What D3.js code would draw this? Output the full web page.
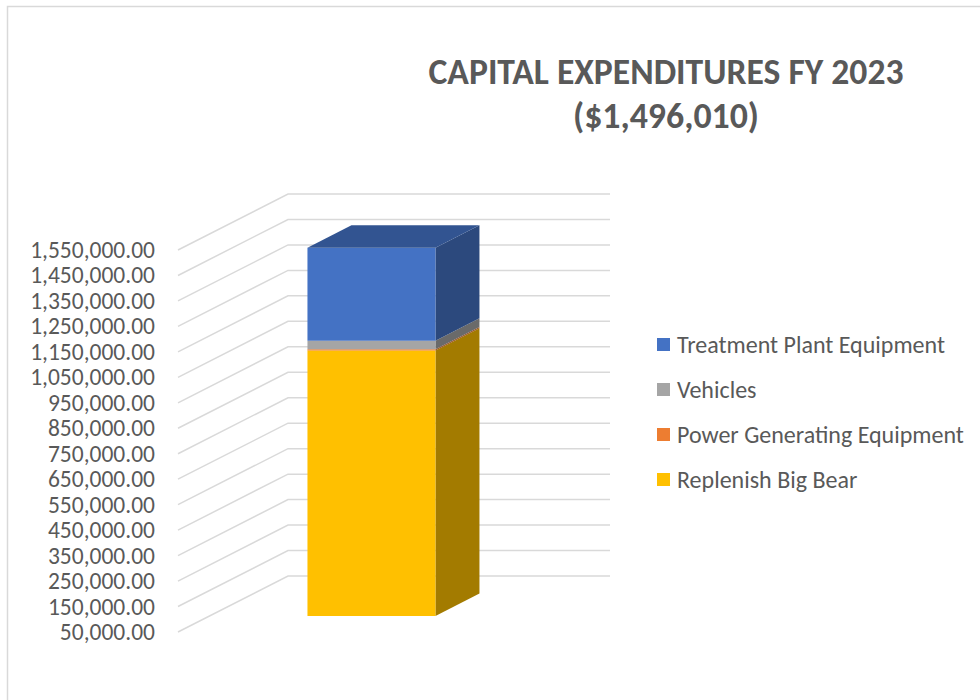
<!DOCTYPE html>
<meta charset="utf-8">
<head>
  <style>
    body { margin: 0; background: #fff; }
    .tick-label { font-family: Carlito, "Open Sans", sans-serif; font-size: 23.5px; fill: #595959; }
    .legend-text { font-family: Carlito, "Open Sans", sans-serif; font-size: 24px; fill: #595959; }
    .title { font-family: Carlito, "Open Sans", sans-serif; font-weight: bold; font-size: 36px; fill: #595959; }
  </style>
</head>
<script src="https://d3js.org/d3.v7.min.js"></script>
<div id="chart"></div>
<script>
// data, bottom of the stack first
const series = ["Replenish Big Bear", "Power Generating Equipment", "Vehicles", "Treatment Plant Equipment"];
const values = [1092000, 5000, 34000, 365010];
const colors = ["#FFC000", "#ED7D31", "#A5A5A5", "#4472C4"];
const tickValues = [50000, 150000, 250000, 350000, 450000, 550000, 650000, 750000,
  850000, 950000, 1050000, 1150000, 1250000, 1350000, 1450000, 1550000];
const titleLines = ["CAPITAL EXPENDITURES FY 2023", "($1,496,010)"];

const W = 980, H = 700;

// fake 3d: depth z in [0,1] shifts right and up
const DEPTH_X = 110, DEPTH_Y = 56;
const FRONT_X = 178, BACK_RIGHT = 610;

const svg = d3.select("#chart").append("svg")
  .attr("width", W)
  .attr("height", H);

// outer chart border (runs off the page right and bottom)
svg.append("rect")
  .attr("x", 7.5).attr("y", 6.5)
  .attr("width", 1000).attr("height", 1000)
  .attr("fill", "none")
  .attr("stroke", "#d9d9d9")
  .attr("stroke-width", 1.5);

const y = d3.scaleLinear()
  .domain([50000, 1550000])
  .range([632, 250])
  .clamp(true);

// projected point
function p(x, v, z) {
  return [x + z * DEPTH_X, y(v) - z * DEPTH_Y];
}

// gridlines: diagonal on the side wall, then flat on the back wall
svg.append("g")
  .selectAll("polyline")
  .data(tickValues)
  .join("polyline")
  .attr("points", d => [p(FRONT_X, d, 0), p(FRONT_X, d, 1), [BACK_RIGHT, y(d) - DEPTH_Y]].join(" "))
  .attr("fill", "none")
  .attr("stroke", "#d9d9d9")
  .attr("stroke-width", 1.5);

// value labels
const axis = d3.axisLeft(y)
  .tickValues(tickValues)
  .tickFormat(d3.format(",.2f"))
  .tickSize(0)
  .tickPadding(23);

const axisG = svg.append("g")
  .attr("transform", `translate(${FRONT_X},0)`)
  .call(axis);
axisG.select(".domain").remove();
axisG.attr("font-family", null).attr("font-size", null);
axisG.selectAll("text")
  .attr("class", "tick-label")
  .attr("fill", null);

// the single stacked bar
const x = d3.scaleBand()
  .domain(["FY 2023"])
  .range([276, 404]);

const zFront = 0.286, zBack = 0.686;

const stack = [];
let acc = 0;
values.forEach((v, i) => {
  stack.push({ key: series[i], y0: acc, y1: acc + v, color: colors[i] });
  acc += v;
});

const bar = svg.append("g");
const x0 = x("FY 2023"), x1 = x0 + x.bandwidth();

stack.forEach(s => {
  const c = d3.color(s.color);
  // right side
  bar.append("polygon")
    .attr("points", [p(x1, s.y0, zFront), p(x1, s.y0, zBack), p(x1, s.y1, zBack), p(x1, s.y1, zFront)].join(" "))
    .attr("fill", c.darker(1.25));
  // front
  bar.append("polygon")
    .attr("points", [p(x0, s.y0, zFront), p(x1, s.y0, zFront), p(x1, s.y1, zFront), p(x0, s.y1, zFront)].join(" "))
    .attr("fill", s.color);
});

// top face of the stack
const topSeg = stack[stack.length - 1];
bar.append("polygon")
  .attr("points", [p(x0, topSeg.y1, zFront), p(x1, topSeg.y1, zFront), p(x1, topSeg.y1, zBack), p(x0, topSeg.y1, zBack)].join(" "))
  .attr("fill", d3.color(topSeg.color).darker(0.85));

// title
svg.append("g")
  .selectAll("text")
  .data(titleLines)
  .join("text")
  .attr("class", "title")
  .attr("x", 666)
  .attr("y", (d, i) => 84 + i * 44)
  .attr("text-anchor", "middle")
  .text(d => d)
  .each(function(d, i) {
    const target = [475, 186][i];
    if (this.getComputedTextLength() > target) {
      d3.select(this).attr("textLength", target).attr("lengthAdjust", "spacingAndGlyphs");
    }
  });

// legend, top entry is the top of the stack
const legendItems = series.slice().reverse();
const legendColors = colors.slice().reverse();
const legend = svg.append("g")
  .selectAll("g")
  .data(legendItems)
  .join("g")
  .attr("transform", (d, i) => `translate(657, ${345 + i * 45})`);

legend.append("rect")
  .attr("x", 0).attr("y", -7)
  .attr("width", 13).attr("height", 13)
  .attr("fill", (d, i) => legendColors[i]);

legend.append("text")
  .attr("class", "legend-text")
  .attr("x", 20)
  .attr("dy", "0.35em")
  .text(d => d);
</script>
